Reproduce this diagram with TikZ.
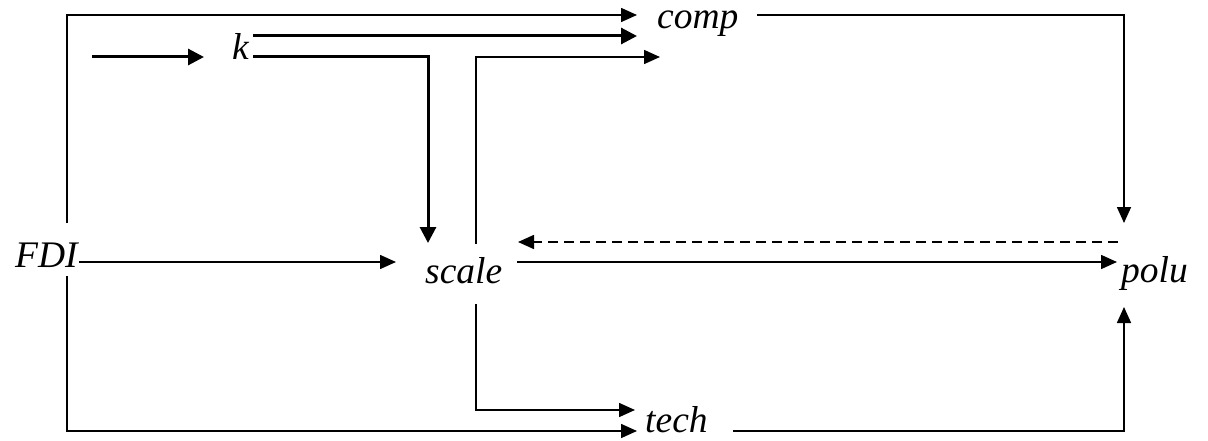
\documentclass[tikz,border=0pt]{standalone}
\usepackage{fontspec}
\setmainfont{Liberation Serif}
\usetikzlibrary{arrows.meta}
\begin{document}
\begin{tikzpicture}[x=1pt,y=-1pt,
  lbl/.style={inner sep=0pt,anchor=base west,font=\fontsize{37.5}{40}\selectfont\itshape},
  thin/.style={line width=1.6pt,-{Triangle[length=16pt,width=14pt]}},
  thick/.style={line width=3pt,-{Triangle[length=16pt,width=16pt]}},
  dsh/.style={line width=1.6pt,dash pattern=on 10pt off 6pt,-{Triangle[length=16pt,width=14pt]}}]
\useasboundingbox (0,0) rectangle (1208,441);
% nodes
\node[lbl] (FDI) at (15,267) {FDI};
\node[lbl] (k) at (232,60) {k};
\node[lbl] (comp) at (657,29) {comp};
\node[lbl] (scale) at (425,283) {scale};
\node[lbl] (polu) at (1121,282) {polu};
\node[lbl] (tech) at (645,432) {tech};
% endpoints
\coordinate (fdiT) at (67,223);
\coordinate (fdiB) at (67,276);
\coordinate (fdiR) at (79,262);
\coordinate (scL) at (396,262);
\coordinate (kin) at (92,57);
\coordinate (kinT) at (204,57);
\coordinate (kA) at (253,36);
\coordinate (kB) at (253,57);
\coordinate (compA) at (637,15);
\coordinate (compB) at (637,36);
\coordinate (compC) at (660,57);
\coordinate (scTk) at (428,243);
\coordinate (scTt) at (476,244);
\coordinate (scBt) at (476,304);
\coordinate (techA) at (635,410);
\coordinate (techB) at (637,431);
\coordinate (scR) at (517,262);
\coordinate (scRd) at (518,242);
\coordinate (poL) at (1117,262);
\coordinate (poLd) at (1118,242);
\coordinate (compR) at (757,15);
\coordinate (poT) at (1124,223);
\coordinate (techR) at (733,431);
\coordinate (poB) at (1124,307);
% connectors
\draw[thin] (fdiT) |- (compA);
\draw[thin] (fdiB) |- (techB);
\draw[thin] (fdiR) -- (scL);
\draw[thick] (kin) -- (kinT);
\draw[thick] (kA) -- (compB);
\draw[thick] (kB) -| (scTk);
\draw[thin] (scTt) |- (compC);
\draw[thin] (scBt) |- (techA);
\draw[thin] (scR) -- (poL);
\draw[dsh] (poLd) -- (scRd);
\draw[thin] (compR) -| (poT);
\draw[thin] (techR) -| (poB);
\end{tikzpicture}
\end{document}
